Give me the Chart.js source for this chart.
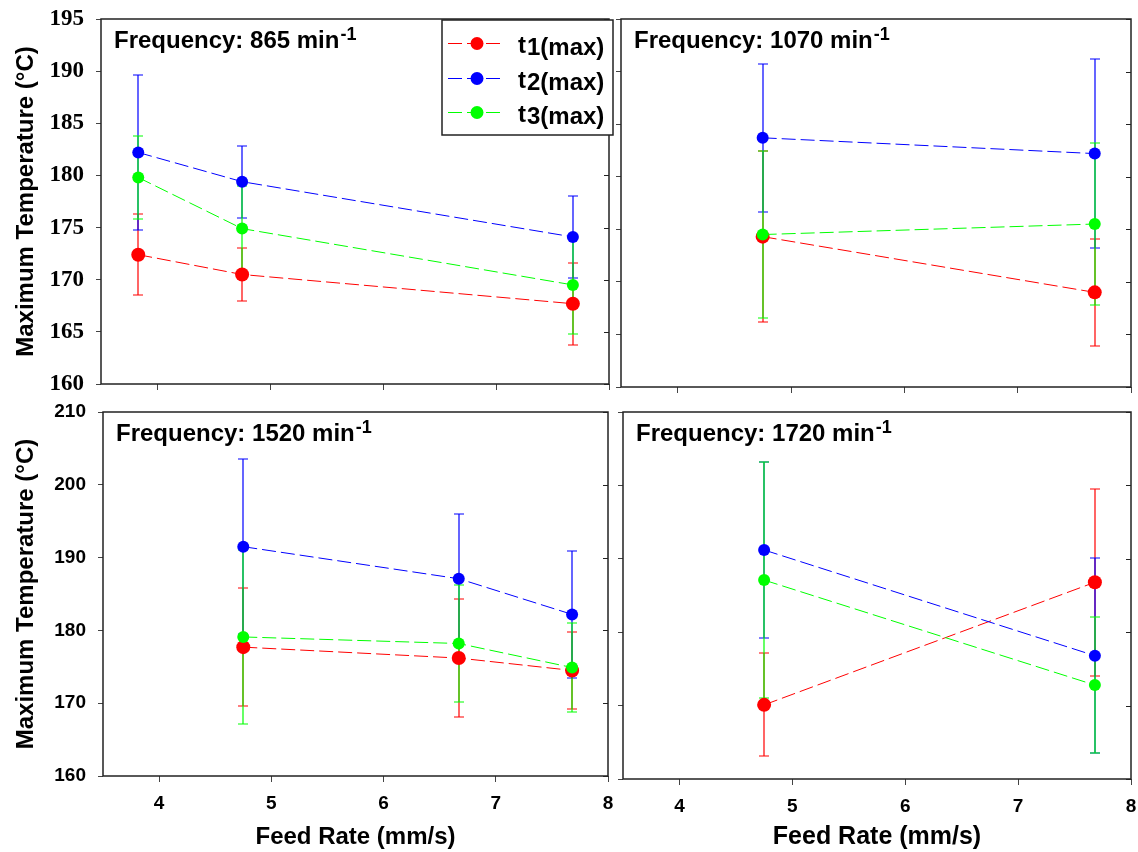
<!DOCTYPE html>
<html>
<head>
<meta charset="utf-8">
<script src="https://cdn.jsdelivr.net/npm/chart.js@4.4.1/dist/chart.umd.min.js"></script>
<style>
  html, body { margin: 0; padding: 0; background: #fff; }
  #wrap { position: relative; width: 1138px; height: 852px; overflow: hidden; }
  #wrap canvas { position: absolute; }
</style>
</head>
<body>
<div id="wrap">
  <canvas id="f865" width="616" height="400" style="left:0;top:0"></canvas>
  <canvas id="f1070" width="526" height="400" style="left:612px;top:0"></canvas>
  <canvas id="f1520" width="616" height="452" style="left:0;top:400px"></canvas>
  <canvas id="f1720" width="526" height="452" style="left:612px;top:400px"></canvas>
</div>
<script>
// Feed rate (mm/s) vs. maximum temperature (°C), mean ± spread, per spindle frequency

// 865 min^-1
const feedRate865 = [3.83, 4.75, 7.68];
const t1Max865 = [172.4, 170.5, 167.7];
const t1Err865 = [3.9, 2.55, 3.95];
const t2Max865 = [182.2, 179.4, 174.1];
const t2Err865 = [7.4, 3.45, 3.9];
const t3Max865 = [179.8, 174.9, 169.5];
const t3Err865 = [3.95, 4.1, 4.75];

// 1070 min^-1
const feedRate1070 = [4.75, 7.68];
const t1Max1070 = [174.3, 169.0];
const t1Err1070 = [8.1, 5.1];
const t2Max1070 = [183.7, 182.2];
const t2Err1070 = [7.05, 8.95];
const t3Max1070 = [174.5, 175.5];
const t3Err1070 = [7.9, 7.7];

// 1520 min^-1
const feedRate1520 = [4.75, 6.67, 7.68];
const t1Max1520 = [177.7, 176.2, 174.5];
const t1Err1520 = [8.1, 8.1, 5.3];
const t2Max1520 = [191.5, 187.1, 182.2];
const t2Err1520 = [12.0, 8.95, 8.75];
const t3Max1520 = [179.1, 178.2, 174.9];
const t3Err1520 = [12.0, 8.0, 6.1];

// 1720 min^-1
const feedRate1720 = [4.75, 7.68];
const t1Max1720 = [170.1, 186.8];
const t1Err1720 = [7.0, 12.7];
const t2Max1720 = [191.2, 176.8];
const t2Err1720 = [12.0, 13.3];
const t3Max1720 = [187.1, 172.8];
const t3Err1720 = [16.1, 9.3];

// axis ticks
const feedRateTicks = [4, 5, 6, 7, 8];
const tempTicksTop = [160, 165, 170, 175, 180, 185, 190, 195];
const tempTicksBottom = [160, 170, 180, 190, 200, 210];

const seriesLabels = ['t1(max)', 't2(max)', 't3(max)'];
const seriesColors = ['#ff0000', '#0000ff', '#00ff00'];

const SANS = '"Liberation Sans", Arial, sans-serif';
const SERIF = '"Liberation Serif", "Times New Roman", serif';
Chart.defaults.font.family = SANS;
Chart.defaults.color = '#000';

// vertical error bars with caps, drawn under the markers
const errorBars = {
  id: 'errorBars',
  beforeDatasetsDraw(chart) {
    const ctx = chart.ctx;
    const ys = chart.scales.y;
    ctx.save();
    ctx.setLineDash([]);
    ctx.lineWidth = 1.2;
    chart.data.datasets.forEach((ds, i) => {
      const meta = chart.getDatasetMeta(i);
      ctx.strokeStyle = ds.borderColor;
      ctx.beginPath();
      meta.data.forEach((pt, j) => {
        const v = ds.data[j].y, e = ds.errors[j];
        const top = Math.round(ys.getPixelForValue(v + e));
        const bot = Math.round(ys.getPixelForValue(v - e));
        const x = Math.round(pt.x);
        ctx.moveTo(x, top); ctx.lineTo(x, bot);
        ctx.moveTo(x - 5, top); ctx.lineTo(x + 5, top);
        ctx.moveTo(x - 5, bot); ctx.lineTo(x + 5, bot);
      });
      ctx.stroke();
    });
    ctx.restore();
  }
};

// box around the plot, inner ticks on the right, frequency caption
const frame = {
  id: 'frame',
  afterDraw(chart, args, opts) {
    const { ctx, chartArea: a } = chart;
    const ys = chart.scales.y;
    ctx.save();
    ctx.setLineDash([]);
    ctx.strokeStyle = '#222';
    ctx.lineWidth = 1.5;
    ctx.strokeRect(a.left, a.top, a.right - a.left, a.bottom - a.top);
    ctx.lineWidth = 1;
    ctx.beginPath();
    ys.ticks.forEach(t => {
      const py = Math.round(ys.getPixelForValue(t.value)) + 0.5;
      ctx.moveTo(a.right - 5, py);
      ctx.lineTo(a.right, py);
    });
    ctx.stroke();

    const base = 'Frequency: ' + opts.frequency + ' min';
    ctx.fillStyle = '#000';
    ctx.textBaseline = 'alphabetic';
    ctx.font = 'bold 24px ' + SANS;
    const tx = a.left + 13, ty = a.top + 29;
    ctx.fillText(base, tx, ty);
    const w = ctx.measureText(base).width;
    ctx.font = 'bold 18px ' + SANS;
    ctx.fillText('-1', tx + w + 1, ty - 8);
    ctx.restore();
  }
};

// legend box in the first panel
const seriesKey = {
  id: 'seriesKey',
  afterDraw(chart) {
    const { ctx, chartArea: a } = chart;
    const bx = a.right - 167, by = a.top + 1, bw = 171, bh = 115;
    ctx.save();
    ctx.fillStyle = '#fff';
    ctx.fillRect(bx, by, bw, bh);
    ctx.strokeStyle = '#222';
    ctx.lineWidth = 1.5;
    ctx.strokeRect(bx, by, bw, bh);
    chart.data.datasets.forEach((ds, k) => {
      const ry = Math.round(by + 23 + 34.5 * k) + 0.5;
      ctx.strokeStyle = ds.borderColor;
      ctx.lineWidth = 1;
      ctx.setLineDash(ds.borderDash);
      ctx.beginPath();
      ctx.moveTo(bx + 6, ry);
      ctx.lineTo(bx + 62, ry);
      ctx.stroke();
      ctx.setLineDash([]);
      ctx.fillStyle = ds.pointBackgroundColor;
      ctx.beginPath();
      ctx.arc(bx + 35, ry, 6.5, 0, Math.PI * 2);
      ctx.fill();
      ctx.fillStyle = '#000';
      ctx.font = 'bold 24px ' + SANS;
      const label = ds.label;
      ctx.fillText(label[0], bx + 76, ry + 9);
      const tw = ctx.measureText(label[0]).width;
      ctx.fillText(label.slice(1), bx + 76 + tw + 1, ry + 11);
    });
    ctx.restore();
  }
};

function series(xs, ys, errs, k) {
  return {
    label: seriesLabels[k],
    data: xs.map((x, j) => ({ x: x, y: ys[j] })),
    errors: errs,
    borderColor: seriesColors[k],
    backgroundColor: seriesColors[k],
    pointBackgroundColor: seriesColors[k],
    borderWidth: 1,
    borderDash: [14, 5],
    pointRadius: k === 0 ? 7 : 6,
    pointBorderWidth: 0,
    tension: 0,
    order: 3 - k
  };
}

function makePanel(id, p) {
  new Chart(document.getElementById(id), {
    type: 'line',
    data: { datasets: p.datasets },
    options: {
      responsive: false,
      animation: false,
      events: [],
      layout: { padding: { left: 0, bottom: 0, top: p.padTop, right: p.padRight } },
      plugins: {
        legend: { display: false },
        tooltip: { enabled: false },
        frame: { frequency: p.frequency }
      },
      scales: {
        x: {
          type: 'linear',
          min: 3.5,
          max: 8,
          afterBuildTicks: s => { s.ticks = feedRateTicks.map(v => ({ value: v })); },
          afterFit: s => { s.height = p.xAxisHeight; s.paddingLeft = 0; s.paddingRight = 0; },
          grid: { drawOnChartArea: false, drawTicks: true, tickLength: 6, color: '#444' },
          border: { display: false },
          ticks: {
            display: p.showX, padding: 10, autoSkip: false, maxRotation: 0,
            font: { size: 19, weight: 'bold' }
          },
          title: {
            display: p.showX, text: 'Feed Rate (mm/s)',
            font: { size: p.xTitleSize || 24, weight: 'bold' },
            padding: { top: 0, bottom: 0 }
          }
        },
        y: {
          type: 'linear',
          min: p.yTicks[0],
          max: p.yTicks[p.yTicks.length - 1],
          afterBuildTicks: s => { s.ticks = p.yTicks.map(v => ({ value: v })); },
          afterFit: s => { s.width = p.yAxisWidth; s.paddingTop = 0; s.paddingBottom = 0; },
          grid: { drawOnChartArea: false, drawTicks: true, tickLength: 5, color: '#444' },
          border: { display: false },
          ticks: { display: p.showY, padding: 12, autoSkip: false, font: p.yTickFont },
          title: {
            display: p.showY, text: 'Maximum Temperature (°C)',
            font: { size: 24, weight: 'bold' },
            padding: { top: 12, bottom: 0 }
          }
        }
      }
    },
    plugins: [errorBars, frame].concat(p.extra || [])
  });
}

makePanel('f865', {
  frequency: '865',
  datasets: [
    series(feedRate865, t1Max865, t1Err865, 0),
    series(feedRate865, t2Max865, t2Err865, 1),
    series(feedRate865, t3Max865, t3Err865, 2)
  ],
  yTicks: tempTicksTop,
  yTickFont: { family: SERIF, size: 23, weight: 'bold' },
  padTop: 19, padRight: 7, yAxisWidth: 101, xAxisHeight: 16,
  showX: false, showY: true,
  extra: [seriesKey]
});

makePanel('f1070', {
  frequency: '1070',
  datasets: [
    series(feedRate1070, t1Max1070, t1Err1070, 0),
    series(feedRate1070, t2Max1070, t2Err1070, 1),
    series(feedRate1070, t3Max1070, t3Err1070, 2)
  ],
  yTicks: tempTicksTop,
  yTickFont: { size: 19, weight: 'bold' },
  padTop: 19, padRight: 6, yAxisWidth: 9, xAxisHeight: 13,
  showX: false, showY: false
});

makePanel('f1520', {
  frequency: '1520',
  datasets: [
    series(feedRate1520, t1Max1520, t1Err1520, 0),
    series(feedRate1520, t2Max1520, t2Err1520, 1),
    series(feedRate1520, t3Max1520, t3Err1520, 2)
  ],
  yTicks: tempTicksBottom,
  yTickFont: { size: 19, weight: 'bold' },
  padTop: 12, padRight: 8, yAxisWidth: 103, xAxisHeight: 76,
  showX: true, showY: true, xTitleSize: 24
});

makePanel('f1720', {
  frequency: '1720',
  datasets: [
    series(feedRate1720, t1Max1720, t1Err1720, 0),
    series(feedRate1720, t2Max1720, t2Err1720, 1),
    series(feedRate1720, t3Max1720, t3Err1720, 2)
  ],
  yTicks: tempTicksBottom,
  yTickFont: { size: 19, weight: 'bold' },
  padTop: 12, padRight: 5, yAxisWidth: 11, xAxisHeight: 73,
  showX: true, showY: false, xTitleSize: 25
});
</script>
</body>
</html>
